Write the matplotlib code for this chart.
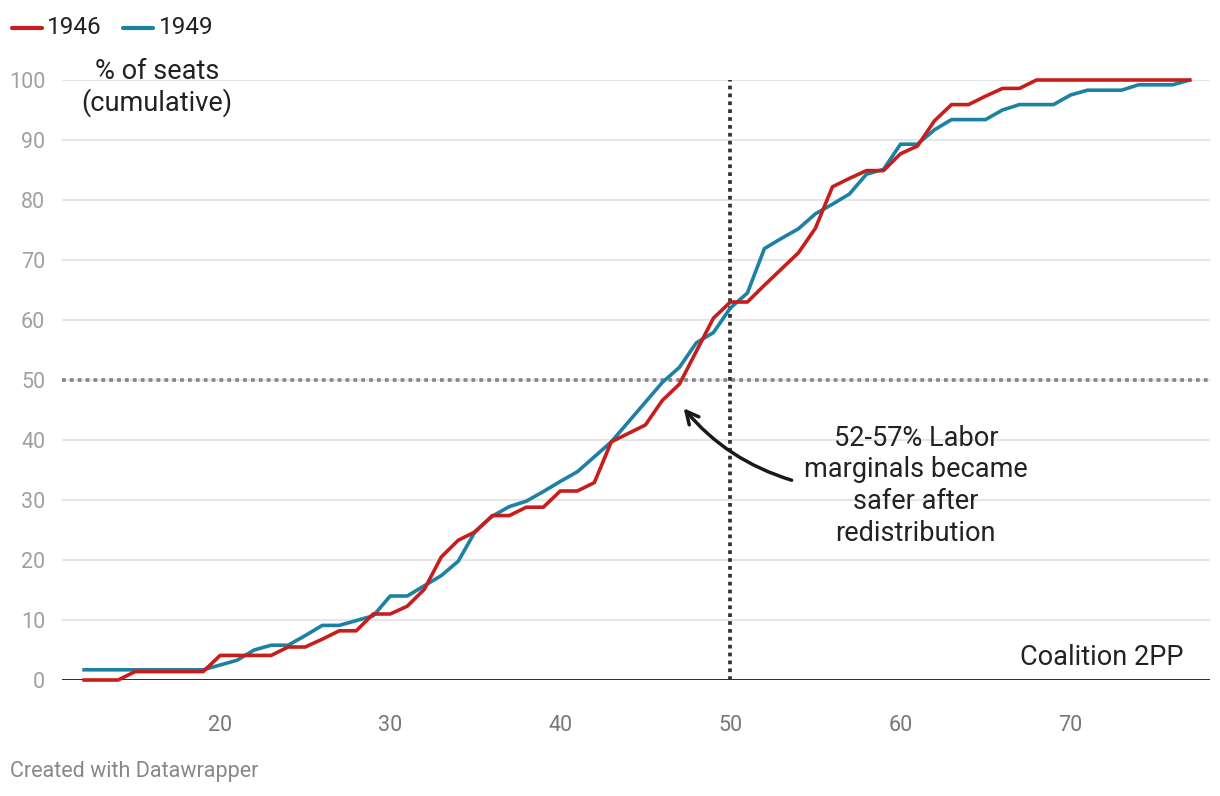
import matplotlib.pyplot as plt
import numpy as np

plt.rcParams['font.family'] = ['Roboto', 'DejaVu Sans']

# two-party-preferred (Coalition) for each x, cumulative % of seats
coalition_2pp = list(range(12, 78))

seats_1946 = [0, 0, 0, 1.4, 1.4, 1.4, 1.4, 1.4, 4.1, 4.1,
              4.1, 4.1, 5.5, 5.5, 6.8, 8.2, 8.2, 11.0, 11.0, 12.3,
              15.1, 20.5, 23.3, 24.7, 27.4, 27.4, 28.8, 28.8, 31.5, 31.5,
              32.9, 39.7, 41.1, 42.5, 46.6, 49.3, 54.8, 60.3, 63.0, 63.0,
              65.8, 68.5, 71.2, 75.3, 82.2, 83.6, 84.9, 84.9, 87.7, 89.0,
              93.2, 95.9, 95.9, 97.3, 98.6, 98.6, 100, 100, 100, 100,
              100, 100, 100, 100, 100, 100]

seats_1949 = [1.7, 1.7, 1.7, 1.7, 1.7, 1.7, 1.7, 1.7, 2.5, 3.3,
              5.0, 5.8, 5.8, 7.4, 9.1, 9.1, 9.9, 10.7, 14.0, 14.0,
              15.7, 17.4, 19.8, 24.8, 27.3, 28.9, 29.8, 31.4, 33.1, 34.7,
              37.2, 39.7, 43.0, 46.3, 49.6, 52.1, 56.2, 57.9, 62.0, 64.5,
              71.9, 73.6, 75.2, 77.7, 79.3, 81.0, 84.3, 85.1, 89.3, 89.3,
              91.7, 93.4, 93.4, 93.4, 95.0, 95.9, 95.9, 95.9, 97.5, 98.3,
              98.3, 98.3, 99.2, 99.2, 99.2, 100]

years = ['1946', '1949']
colors = ['#c71e1d', '#1d81a2']

x_ticks = [20, 30, 40, 50, 60, 70]
y_ticks = [0, 10, 20, 30, 40, 50, 60, 70, 80, 90, 100]

fig = plt.figure(figsize=(12.2, 7.96), dpi=100)
ax = fig.add_axes([62 / 1220, 1 - 680 / 796, 1148 / 1220, 600 / 796])

ax.set_xlim(10.7, 78.2)
ax.set_ylim(0, 100)

# grid
for y in y_ticks[1:]:
    ax.axhline(y, color='#e6e6e6', linewidth=1.5, zorder=0)
ax.axhline(0, color='#1a1a1a', linewidth=2, zorder=1)

# reference lines
ax.axhline(50, color='#888888', linewidth=2.7, linestyle=(0, (1, 1.1)), zorder=2)
ax.plot([50, 50], [0, 100], color='#333333', linewidth=2.7,
        linestyle=(0, (1, 1.1)), zorder=2, clip_on=False)

# data lines
ax.plot(coalition_2pp, seats_1949, color=colors[1], linewidth=2.6,
        zorder=3, clip_on=False, solid_joinstyle='round')
ax.plot(coalition_2pp, seats_1946, color=colors[0], linewidth=2.6,
        zorder=4, clip_on=False, solid_joinstyle='round')

for s in ax.spines.values():
    s.set_visible(False)

ax.set_xticks(x_ticks)
ax.set_yticks(y_ticks)
ax.tick_params(axis='both', length=0)
ax.tick_params(axis='x', pad=25, labelsize=15.5, labelcolor='#777777')
ax.tick_params(axis='y', pad=12, labelsize=15.5, labelcolor='#a0a0a0')

# labels
ax.text(16.3, 98.7, '% of seats\n(cumulative)', ha='center', va='center',
        fontsize=19.5, color='#222222', linespacing=1.15)
ax.text(76.65, 3.8, 'Coalition 2PP', ha='right', va='center',
        fontsize=19.5, color='#222222')
ax.text(60.9, 32.4, '52-57% Labor\nmarginals became\nsafer after\nredistribution',
        ha='center', va='center', fontsize=19.5, color='#222222', linespacing=1.22)

ax.annotate('', xy=(47.25, 45.3), xytext=(53.6, 33.3),
            arrowprops=dict(arrowstyle='->,head_length=0.9,head_width=0.45',
                            color='#1a1a1a', linewidth=2.5,
                            connectionstyle='arc3,rad=-0.15',
                            shrinkA=0, shrinkB=0))

# legend
fig.add_artist(plt.Line2D([12 / 1220, 42 / 1220], [1 - 28 / 796] * 2,
                          color=colors[0], linewidth=3, solid_capstyle='round'))
fig.text(47 / 1220, 1 - 28 / 796, years[0], ha='left', va='center',
         fontsize=17.5, color='#222222')
fig.add_artist(plt.Line2D([123 / 1220, 153 / 1220], [1 - 28 / 796] * 2,
                          color=colors[1], linewidth=3, solid_capstyle='round'))
fig.text(159 / 1220, 1 - 28 / 796, years[1], ha='left', va='center',
         fontsize=17.5, color='#222222')

fig.text(10 / 1220, 1 - 772 / 796, 'Created with Datawrapper', ha='left',
         va='center', fontsize=15.5, color='#888888')

plt.savefig('out.png', dpi=100)
